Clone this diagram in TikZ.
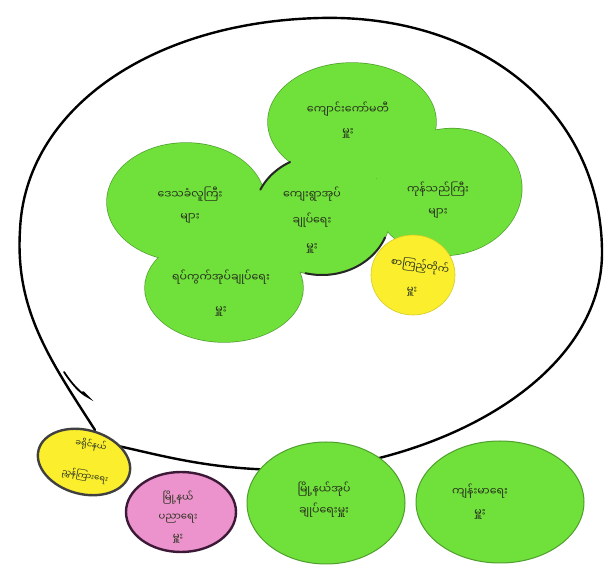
\documentclass[tikz,border=0pt]{standalone}
\usepackage{fontspec}
\newfontfamily\mya[Script=Myanmar]{Noto Sans Myanmar UI}
\usetikzlibrary{shapes.geometric}
\definecolor{leaf}{RGB}{112,224,58}
\definecolor{leafedge}{RGB}{78,160,45}
\definecolor{sun}{RGB}{250,238,45}
\definecolor{rose}{RGB}{236,146,204}
\definecolor{plum}{RGB}{60,25,55}
\definecolor{ink}{RGB}{40,50,30}
\tikzset{
  blob/.style={ellipse, fill=leaf, inner sep=0pt},
  edgepass/.style={draw=leafedge, line width=1.4pt},
  yblob/.style={ellipse, fill=sun, inner sep=0pt},
  txt/.style={font=\mya\fontsize{11}{22}\selectfont, text=ink, align=center, inner sep=0pt},
  txtsm/.style={font=\mya\fontsize{10}{20}\selectfont, text=ink, align=center, inner sep=0pt},
  loopline/.style={draw=black, line width=2.4pt, line cap=round},
  shade/.style={draw=black!85, line width=2pt, line cap=round}
}
\begin{document}
\begin{tikzpicture}[x=1pt,y=-1pt]
\useasboundingbox (0,0) rectangle (606,569);
\fill[white] (0,0) rectangle (606,569);
% outline pass for the green cluster (only the outer edge stays visible)
\path[edgepass] (352,122) ellipse (84 and 59);
\path[edgepass] (186,202) ellipse (79 and 59);
\path[edgepass, rotate around={10:(448,192)}] (448,192) ellipse (74 and 63);
\path[edgepass] (224,288) ellipse (79 and 54);
\path[edgepass] (322,215) ellipse (68 and 60);
% fills
\node[blob, minimum width=168pt, minimum height=118pt] (top) at (352,122) {};
\node[blob, minimum width=158pt, minimum height=118pt] (left) at (186,202) {};
\node[blob, minimum width=148pt, minimum height=126pt, rotate=10] (right) at (448,192) {};
\node[blob, minimum width=158pt, minimum height=108pt] (lowl) at (224,288) {};
\node[blob, minimum width=136pt, minimum height=120pt] (mid) at (322,215) {};
\fill[leaf] (262,236) ellipse (16 and 14);
% dark edges of the middle blob
\draw[shade] plot[domain=205:242, variable=\t, samples=20] ({322+68*cos(\t)},{215+60*sin(\t)});
\draw[shade] plot[domain=22:104, variable=\t, samples=30] ({322+68*cos(\t)},{215+60*sin(\t)});
\node[yblob, draw=sun!85!black, line width=0.6pt, minimum width=84pt, minimum height=80pt] (yin) at (413,275) {};
% texts
\node[txt] (ttop) at (348,120) {ကျောင်းကော်မတီ\\မှူး};
\node[txt] (tleft) at (190,205) {ဒေသခံလူကြီး\\များ};
\node[txt, font=\mya\fontsize{11}{26}\selectfont] (tmid) at (312,220) {ကျေးရွာအုပ်\\ချုပ်ရေး\\မှူး};
\node[txt] (tright) at (438,200) {ကုန်သည်ကြီး\\များ};
\node[txt, font=\mya\fontsize{11}{32}\selectfont] (tlowl) at (221,293) {ရပ်ကွက်အုပ်ချုပ်ရေး\\မှူး};
\node[txtsm, rotate=-8] (tyin1) at (420,266) {စာကြည့်တိုက်};
\node[txtsm] (tyin2) at (412,292) {မှူး};
% big loop
\coordinate (fork) at (64,372);
\coordinate (tip) at (88,397);
\draw[loopline] (95,430) .. controls (50,360) and (15,310) .. (20,230)
  .. controls (25,110) and (150,22) .. (320,18)
  .. controls (480,14) and (600,110) .. (602,250)
  .. controls (604,360) and (480,445) .. (330,468)
  .. controls (230,476) and (165,456) .. (118,446);
\draw[loopline, line width=1.8pt] (fork) .. controls (72,384) and (80,393) .. (tip) -- (83,392);
% bottom nodes
\node[ellipse, fill=sun, draw=black!75, line width=2.4pt, minimum width=94pt, minimum height=64pt, rotate=-15, inner sep=0pt] (ybot) at (84,462) {};
\node[txtsm, font=\mya\fontsize{8.5}{19}\selectfont, rotate=-10] (tybot1) at (91,445) {ခရိုင်နယ်};
\node[txtsm, font=\mya\fontsize{8.5}{19}\selectfont, rotate=-10] (tybot2) at (85,476) {ညွှန်ကြားရေး};
\node[ellipse, fill=rose, draw=plum, line width=2.4pt, minimum width=110pt, minimum height=80pt, inner sep=0pt] (pink) at (181,512) {};
\node[txtsm, font=\mya\fontsize{10}{19.5}\selectfont] (tpink) at (178,517) {မြို့နယ်\\ပညာရေး\\မှူး};
\node[blob, draw=leafedge, line width=1pt, minimum width=158pt, minimum height=122pt] (bg1) at (326,503) {};
\node[txt, font=\mya\fontsize{11}{21}\selectfont] (tbg1) at (324,500) {မြို့နယ်အုပ်\\ချုပ်ရေးမှူး};
\node[blob, draw=leafedge, line width=1pt, minimum width=168pt, minimum height=122pt] (bg2) at (500,502) {};
\node[txt, font=\mya\fontsize{11}{21}\selectfont] (tbg2) at (480,502) {ကျန်းမာရေး\\မှူး};
\end{tikzpicture}
\end{document}
